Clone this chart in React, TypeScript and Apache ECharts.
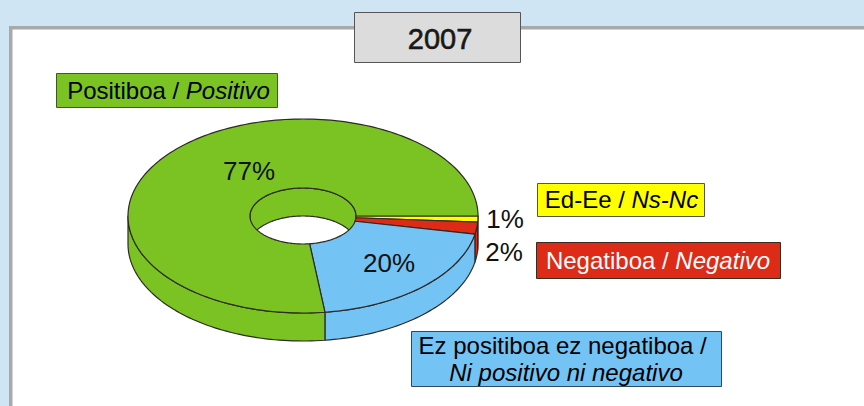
import React, { useEffect, useRef } from "react";
import * as echarts from "echarts";

const yearLabel = "2007";
const shares = [1, 2, 20, 77];
const sliceColors = ["#ffff00", "#de2b17", "#73c3f5", "#7bc322"];

const CX = 303, CY = 216, RX = 175, RY = 97, IRX = 53, IRY = 28, DEPTH = 28;
const EDGE = "#2e2a25";
const FONT = "'Liberation Sans', Arial, sans-serif";
const total = shares.reduce((a, b) => a + b, 0);

const pt = (rx: number, ry: number, deg: number, dy = 0): number[] => {
  const a = (deg * Math.PI) / 180;
  return [CX + rx * Math.cos(a), CY + dy + ry * Math.sin(a)];
};
const arc = (rx: number, ry: number, from: number, to: number, dy = 0): number[][] => {
  const n = Math.max(2, Math.ceil(Math.abs(to - from) / 1.5));
  const out: number[][] = [];
  for (let i = 0; i <= n; i++) out.push(pt(rx, ry, from + ((to - from) * i) / n, dy));
  return out;
};
const range = (i: number): [number, number] => {
  const start = shares.slice(0, i).reduce((a, b) => a + b, 0);
  return [(start / total) * 360, ((start + shares[i]) / total) * 360];
};
const style = (i: number) => ({ fill: sliceColors[i], stroke: EDGE, lineWidth: 1.2, lineJoin: "round" });

const renderWalls = (params: any) => {
  const i = params.dataIndex;
  const [a, b] = range(i);
  const children: any[] = [];
  const of0 = Math.max(a, 0), of1 = Math.min(b, 180);
  if (of1 > of0) {
    children.push({
      type: "polygon",
      shape: { points: [...arc(RX, RY, of0, of1), ...arc(RX, RY, of1, of0, DEPTH)] },
      style: style(i),
    });
  }
  const if0 = Math.max(a, 180), if1 = Math.min(b, 360);
  if (if1 > if0) {
    children.push({
      type: "polygon",
      shape: { points: [...arc(IRX, IRY, if0, if1), ...arc(IRX, IRY, if1, if0, DEPTH)] },
      style: style(i),
    });
  }
  return { type: "group", children };
};

const renderTops = (params: any) => {
  const i = params.dataIndex;
  const [a, b] = range(i);
  return {
    type: "polygon",
    shape: { points: [...arc(RX, RY, a, b), ...arc(IRX, IRY, b, a)] },
    style: style(i),
  };
};

const percentAnchors = [
  [505, 219],
  [504, 252],
  [389, 263],
  [249, 171],
];
const renderPercents = (params: any, api: any) => ({
  type: "text",
  x: percentAnchors[params.dataIndex][0],
  y: percentAnchors[params.dataIndex][1],
  style: {
    text: `${api.value(0)}%`,
    font: `26px ${FONT}`,
    fill: "#111",
    align: "center",
    verticalAlign: "middle",
  },
});

const box = (x: number, y: number, w: number, h: number, fill: string, stroke: string, text: string, color = "#000", dx = 0, fs = 24, lh = 27) => [
  { type: "rect", z: 10, shape: { x: x + 0.5, y: y + 0.5, width: w, height: h }, style: { fill, stroke, lineWidth: 1 } },
  {
    type: "text",
    z: 11,
    x: x + w / 2 + dx,
    y: y + h / 2,
    style: {
      text,
      fill: color,
      font: `${fs}px ${FONT}`,
      align: "center",
      verticalAlign: "middle",
      lineHeight: lh,
      rich: {
        n: { font: `${fs}px ${FONT}`, fill: color, lineHeight: lh },
        i: { font: `italic ${fs}px ${FONT}`, fill: color, lineHeight: lh },
      },
    },
  },
];

export default function App() {
  const ref = useRef<HTMLDivElement>(null);
  useEffect(() => {
    document.body.style.margin = "0";
    const chart = echarts.init(ref.current!, undefined, { renderer: "svg" });
    chart.setOption({
      animation: false,
      backgroundColor: "#d0e5f4",
      graphic: [
        { type: "rect", z: 0, shape: { x: 9, y: 26, width: 860, height: 390 }, style: { fill: "#a9a9a9" } },
        { type: "rect", z: 0, shape: { x: 12.5, y: 29.5, width: 860, height: 390 }, style: { fill: "#ffffff" } },
        { type: "rect", z: 10, shape: { x: 354.5, y: 12.5, width: 166, height: 50 }, style: { fill: "#dcdcdc", stroke: "#555555", lineWidth: 1 } },
        {
          type: "text",
          z: 11,
          x: 440,
          y: 39,
          style: { text: yearLabel, font: `29px ${FONT}`, fill: "#1a1816", stroke: "#1a1816", lineWidth: 0.6, align: "center", verticalAlign: "middle" },
        },
        ...box(56, 73, 221, 34, sliceColors[3], "#3f5a1e", "{n|Positiboa / }{i|Positivo}", "#000", 2),
        ...box(537, 183, 167, 33, sliceColors[0], "#555555", "{n|Ed-Ee / }{i|Ns-Nc}", "#000", 1),
        ...box(536, 242, 244, 36, sliceColors[1], "#3a2a20", "{n|Negatiboa / }{i|Negativo}", "#ffffff"),
        ...box(411, 331, 310, 55, sliceColors[2], "#2f4a60", "{n|Ez positiboa ez negatiboa / }\n{i|Ni positivo ni negativo}"),
      ],
      series: [
        { type: "custom", coordinateSystem: "none", z: 2, silent: true, data: shares, renderItem: renderWalls },
        { type: "custom", coordinateSystem: "none", z: 3, silent: true, data: shares, renderItem: renderTops },
        { type: "custom", coordinateSystem: "none", z: 4, silent: true, data: shares, renderItem: renderPercents },
      ],
    });
    return () => chart.dispose();
  }, []);
  return <div ref={ref} style={{ position: "fixed", left: 0, top: 0, width: 864, height: 406 }} />;
}
